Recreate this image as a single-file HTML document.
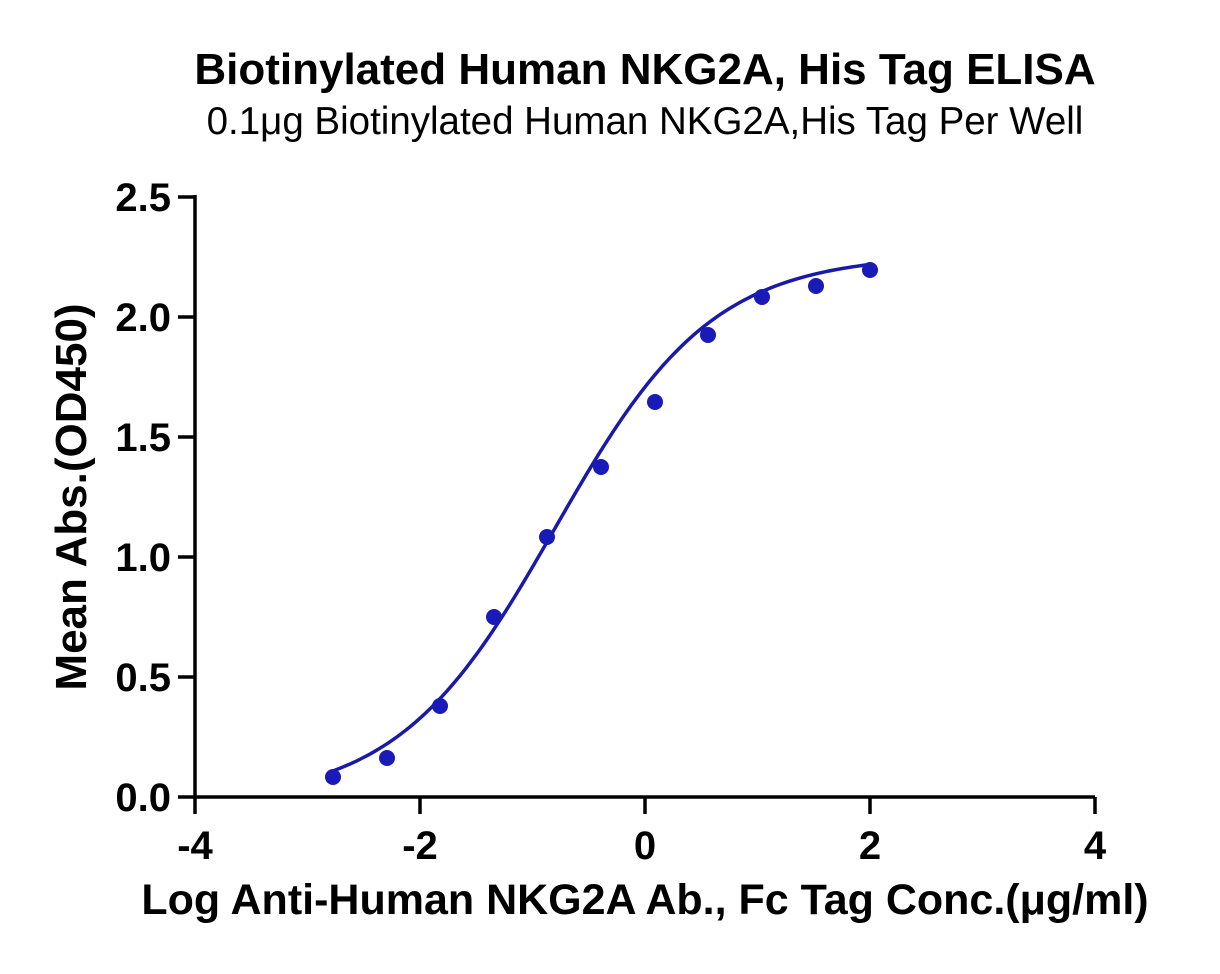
<!DOCTYPE html>
<html><head><style>body{margin:0;background:#fff}</style></head><body>
<svg width="1220" height="969" xmlns="http://www.w3.org/2000/svg" font-family="Liberation Sans, sans-serif">
<text x="645" y="84" font-size="44" font-weight="bold" text-anchor="middle">Biotinylated Human NKG2A, His Tag ELISA</text>
<text x="645" y="134" font-size="38.5" text-anchor="middle">0.1μg Biotinylated Human NKG2A,His Tag Per Well</text>
<g stroke="#000" stroke-width="3.5" fill="none">
<path d="M195 195V797H1095"/>
<path d="M178 197H195M178 317H195M178 437H195M178 557H195M178 677H195M178 797H195"/>
<path d="M195 797V814M420 797V814M645 797V814M870 797V814M1095 797V814"/>
</g>
<g font-size="40" font-weight="bold" text-anchor="end">
<text x="171" y="211">2.5</text><text x="171" y="331">2.0</text><text x="171" y="451">1.5</text>
<text x="171" y="571">1.0</text><text x="171" y="691">0.5</text><text x="171" y="811">0.0</text>
</g>
<g font-size="40" font-weight="bold" text-anchor="middle">
<text x="195" y="859">-4</text><text x="420" y="859">-2</text><text x="645" y="859">0</text><text x="870" y="859">2</text><text x="1095" y="859">4</text>
</g>
<text x="645" y="914" font-size="43" font-weight="bold" text-anchor="middle">Log Anti-Human NKG2A Ab., Fc Tag Conc.(μg/ml)</text>
<text transform="translate(86,497) rotate(-90)" font-size="44" font-weight="bold" text-anchor="middle">Mean Abs.(OD450)</text>
<path id="c" fill="none" stroke="#1a1aa8" stroke-width="3.5"/>
<g fill="#1a1ab8">
<circle cx="333" cy="777" r="8"/><circle cx="387" cy="758" r="8"/><circle cx="440" cy="706" r="8"/>
<circle cx="494" cy="617" r="8"/><circle cx="547" cy="537" r="8"/><circle cx="601" cy="467" r="8"/>
<circle cx="655" cy="402" r="8"/><circle cx="708" cy="335" r="8"/><circle cx="762" cy="297" r="8"/>
<circle cx="816" cy="286" r="8"/><circle cx="870" cy="270" r="8"/>
</g>
</svg>
<script>
var d="";for(var i=0;i<=120;i++){var x=-2.8+4.8*i/120;var y=-0.02+2.28/(1+Math.pow(10,(-0.8-x)*0.62));
d+=(i?"L":"M")+(645+112.5*x).toFixed(1)+" "+(797-240*y).toFixed(1);}
document.getElementById("c").setAttribute("d",d);
</script>
</body></html>
